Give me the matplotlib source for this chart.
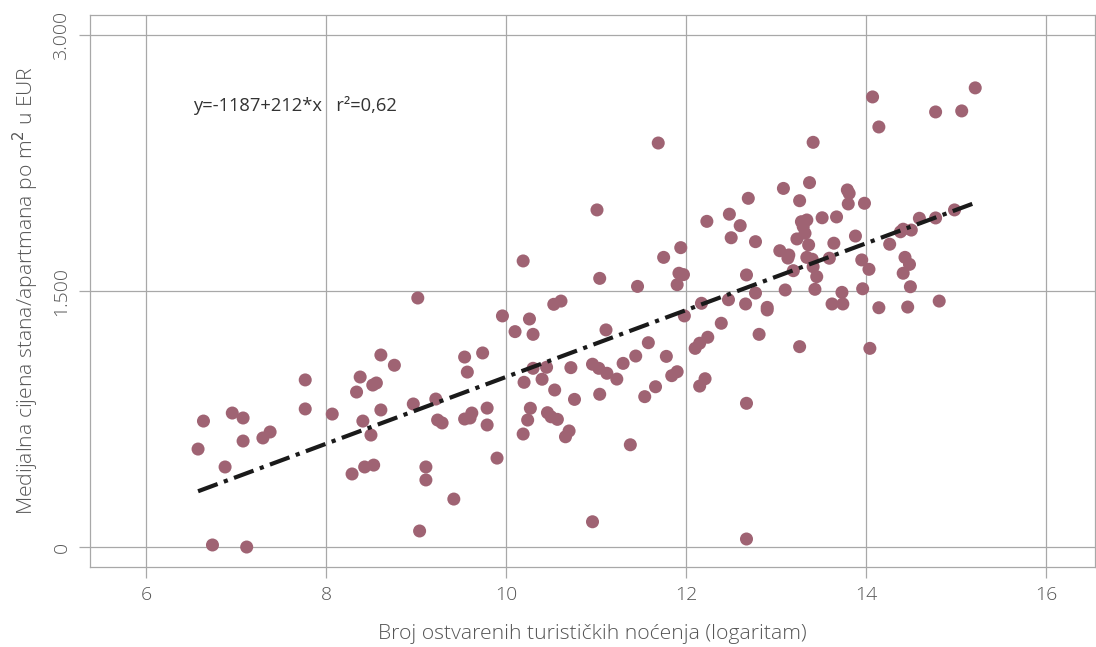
import matplotlib
matplotlib.use("Agg")
import matplotlib.pyplot as plt
import numpy as np

plt.rcParams['font.family'] = ['Open Sans', 'DejaVu Sans']

# log of tourist nights (x) and median price per m2 in EUR (y)
x_vals = [
    6.58, 6.64, 6.74, 6.88, 6.96, 7.08, 7.08, 7.12, 7.30, 7.38, 7.77, 7.77,
    8.07, 8.29, 8.34, 8.38, 8.41, 8.43, 8.50, 8.53, 8.52, 8.56, 8.61, 8.61,
    8.76, 8.97, 9.02, 9.04, 9.11, 9.11, 9.22, 9.24, 9.29, 9.42, 9.54, 9.57,
    9.54, 9.60, 9.62, 9.74, 9.79, 9.79, 9.90, 9.96,
    10.10, 10.19, 10.26, 10.30, 10.53, 10.61, 11.04, 10.30, 10.45, 10.72,
    10.96, 11.03, 10.20, 10.40, 10.54, 10.76, 11.04, 10.27, 10.24, 10.46,
    10.50, 10.57, 10.19, 10.70, 10.66, 10.96,
    11.01, 11.46, 11.75, 11.94, 11.92, 11.97, 11.90, 11.98, 11.11, 11.30,
    11.44, 11.58, 11.78, 11.84, 11.90, 11.66, 11.54, 11.12, 11.23, 11.38, 11.69,
    12.23, 12.48, 12.60, 12.69, 12.50, 12.77, 12.67, 12.77, 12.66, 12.47,
    12.17, 12.39, 12.81, 12.24, 12.15, 12.10, 12.15, 12.21, 12.67, 12.67,
    13.08, 13.37, 13.26, 13.41, 13.79, 13.81, 13.80, 13.98, 13.28, 13.34,
    13.30, 13.51, 13.67, 13.23, 13.32, 13.36, 13.64, 13.88, 13.04, 13.14,
    13.13, 13.34, 13.40, 13.41, 13.59, 13.95, 14.03, 13.19, 13.45, 13.43,
    13.10, 13.73, 13.96, 13.62, 13.74, 12.90, 12.90, 13.26, 14.04, 14.14,
    14.26, 14.38, 14.41, 14.50, 14.59, 14.43, 14.48, 14.41, 14.49, 14.46,
    14.07, 14.14, 14.77, 14.77, 14.81, 14.98, 15.06, 15.21,
]
y_vals = [
    574, 738, 12, 469, 785, 756, 621, 0, 639, 674, 979, 809,
    779, 428, 908, 996, 738, 469, 656, 480, 949, 961, 1125, 803,
    1065, 838, 1459, 94, 469, 393, 867, 744, 727, 281, 1113, 1025,
    750, 756, 785, 1137, 715, 814, 521, 1354,
    1262, 1676, 1336, 1246, 1422, 1441, 1574, 1047, 1053, 1051,
    1071, 1047, 965, 983, 920, 865, 895, 813, 744, 787,
    763, 748, 662, 680, 646, 148,
    1975, 1527, 1697, 1754, 1604, 1596, 1537, 1354, 1272, 1076,
    1119, 1197, 1117, 1004, 1027, 939, 881, 1018, 984, 599, 2367,
    1908, 1950, 1883, 2043, 1812, 1789, 1594, 1488, 1424, 1449,
    1428, 1311, 1246, 1229, 1194, 1164, 943, 986, 842, 47,
    2101, 2135, 2029, 2371, 2092, 2072, 2010, 2014, 1906, 1916,
    1877, 1929, 1934, 1805, 1838, 1770, 1780, 1822, 1736, 1711,
    1693, 1697, 1686, 1642, 1692, 1682, 1627, 1619, 1584, 1510,
    1506, 1492, 1513, 1424, 1424, 1404, 1389, 1174, 1164, 1402,
    1774, 1847, 1862, 1857, 1926, 1697, 1656, 1604, 1525, 1406,
    2637, 2461, 1928, 2549, 1441, 1975, 2555, 2690,
]

x_ticks = [6, 8, 10, 12, 14, 16]
y_ticks = [0, 1500, 3000]
y_tick_labels = ["0", "1.500", "3.000"]
equation_text = "y=-1187+212*x   r²=0,62"
x_label = "Broj ostvarenih turističkih noćenja (logaritam)"
y_label = "Medijalna cijena stana/apartmana po m$^2$ u EUR"

x = np.array(x_vals)
y = np.array(y_vals)

fig = plt.figure(figsize=(10.96, 6.47), dpi=100)
ax = fig.add_axes([90/1096, 1-567/647, 1005/1096, 552/647])

grid_c = '#a8a8a8'
ax.set_axisbelow(True)
ax.grid(True, color=grid_c, linewidth=0.9)
for s in ax.spines.values():
    s.set_color(grid_c)
    s.set_linewidth(0.9)

ax.scatter(x, y, s=88, color='#9f6373', edgecolors='none', zorder=3)

coef = np.polyfit(x, y, 1)
xx = np.array([x.min(), x.max()])
ax.plot(xx, np.polyval(coef, xx), color='#1a1a1a', linewidth=3.0,
        linestyle=(0, (5, 1.6, 1, 1.6)), zorder=4)

ax.text(6.52, 2584, equation_text, fontsize=13.2, color='#333333',
        va='center', ha='left', fontweight='medium')

ax.set_xlim(5.38, 16.54)
ax.set_ylim(-117, 3117)
ax.set_xticks(x_ticks)
ax.set_yticks(y_ticks)
ax.set_yticklabels(y_tick_labels, rotation=90, va='center')
ax.tick_params(axis='both', length=8, color=grid_c, width=0.9,
               labelsize=14, labelcolor='#555555', pad=6)

ax.set_xlabel(x_label, fontsize=15.2, color='#555555', labelpad=14, fontweight='light')
ax.set_ylabel(y_label, fontsize=15.2, color='#555555', labelpad=8, fontweight='light')
for lab in ax.get_xticklabels() + ax.get_yticklabels():
    lab.set_fontweight('light')

fig.savefig('out.png', dpi=100)
